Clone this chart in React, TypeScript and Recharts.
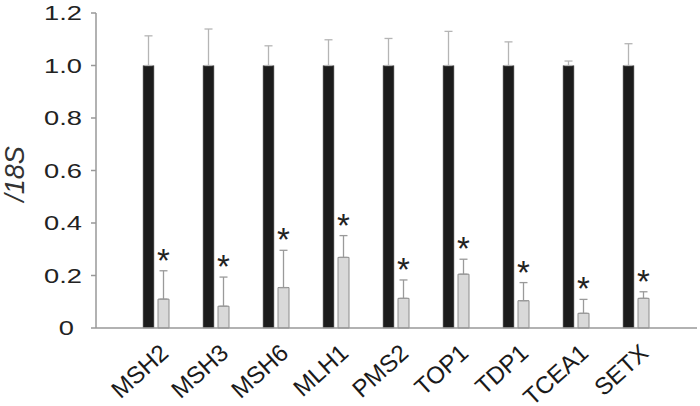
import React from 'react'
import { BarChart, Bar, XAxis, YAxis, ErrorBar, LabelList } from 'recharts'

const genes = ['MSH2', 'MSH3', 'MSH6', 'MLH1', 'PMS2', 'TOP1', 'TDP1', 'TCEA1', 'SETX']
const controlValues = [1, 1, 1, 1, 1, 1, 1, 1, 1]
const controlSD = [0.113, 0.139, 0.075, 0.098, 0.103, 0.13, 0.09, 0.017, 0.083]
const treatedValues = [0.11, 0.083, 0.154, 0.269, 0.113, 0.205, 0.104, 0.056, 0.113]
const treatedSD = [0.108, 0.111, 0.142, 0.083, 0.07, 0.057, 0.069, 0.053, 0.025]
const yTicks = [0, 0.2, 0.4, 0.6, 0.8, 1.0, 1.2]

const data = genes.map((name, i) => ({
  name,
  control: controlValues[i],
  controlErr: [0, controlSD[i]],
  treated: treatedValues[i],
  treatedErr: [0, treatedSD[i]],
}))

const FONT = '"Liberation Sans", Arial, sans-serif'

function YTick(props: any) {
  const { x, y, payload } = props
  const v = payload.value
  const label = v === 0 ? '0' : v.toFixed(1)
  const dx = v === 0 ? -8 : 0
  return (
    <text
      transform={`translate(${x + dx},${y + 7}) scale(1.3,1)`}
      textAnchor="end"
      fontFamily={FONT}
      fontSize={21}
      fill="#222"
    >
      {label}
    </text>
  )
}

function XTick(props: any) {
  const { x, y, payload } = props
  return (
    <text
      transform={`translate(${x + 14},${y + 27}) rotate(-42)`}
      textAnchor="end"
      fontFamily={FONT}
      fontSize={24}
      fill="#1a1a1a"
    >
      {payload.value}
    </text>
  )
}

function Star(props: any) {
  const { x, y, width, height, value, index } = props
  const pxPerUnit = value ? height / value : 0
  const top = y - (treatedSD[index] ?? 0) * pxPerUnit
  return (
    <text
      x={x + width / 2}
      y={top + 1}
      textAnchor="middle"
      fontFamily={FONT}
      fontSize={33}
      fill="#222"
    >
      *
    </text>
  )
}

export default function App() {
  return (
    <div style={{ position: 'absolute', left: 0, top: 0, background: '#fff' }}>
      <BarChart
        width={700}
        height={406}
        data={data}
        margin={{ top: 13, right: 3, bottom: 0, left: 0 }}
        barSize={11}
        barGap={4}
      >
        <XAxis
          dataKey="name"
          height={78}
          padding={{ left: 30, right: 31 }}
          tickLine={false}
          tickSize={0}
          tickMargin={0}
          axisLine={{ stroke: '#999', strokeWidth: 1.5 }}
          tick={<XTick />}
          interval={0}
        />
        <YAxis
          width={96}
          domain={[0, 1.2]}
          ticks={yTicks}
          tickSize={5}
          tickMargin={9}
          axisLine={{ stroke: '#999', strokeWidth: 1.5 }}
          tickLine={{ stroke: '#999', strokeWidth: 1.5 }}
          tick={<YTick />}
          label={{
            content: () => (
              <text
                transform="translate(24,174) rotate(-90)"
                textAnchor="middle"
                fontFamily={FONT}
                fontStyle="italic"
                fontSize={27}
                fill="#333"
              >
                /18S
              </text>
            ),
          }}
        />
        <Bar dataKey="control" fill="#1c1c1c" stroke="#8a8a8a" strokeWidth={0.6} isAnimationActive={false}>
          <ErrorBar dataKey="controlErr" width={4} stroke="#b5b5b5" strokeWidth={1.3} direction="y" />
        </Bar>
        <Bar dataKey="treated" fill="#d9d9d9" stroke="#8c8c8c" strokeWidth={1} isAnimationActive={false}>
          <ErrorBar dataKey="treatedErr" width={4} stroke="#9a9a9a" strokeWidth={1.3} direction="y" />
          <LabelList dataKey="treated" content={<Star />} />
        </Bar>
      </BarChart>
    </div>
  )
}
